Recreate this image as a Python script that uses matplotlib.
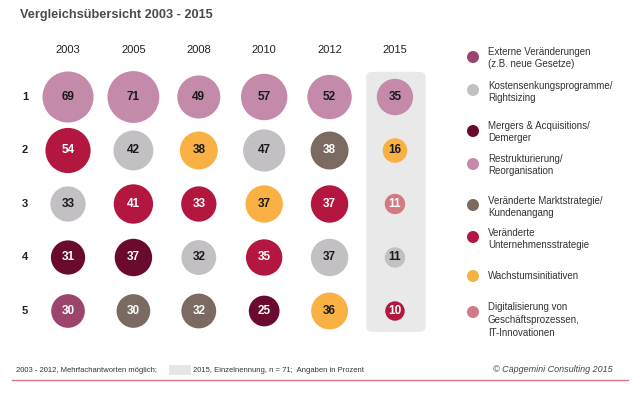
import matplotlib
matplotlib.use("Agg")
import matplotlib.pyplot as plt
from matplotlib.patches import FancyBboxPatch, Rectangle

plt.rcParams["font.family"] = ["Liberation Sans Narrow", "Liberation Sans", "DejaVu Sans"]

# --- data ---
years = ["2003", "2005", "2008", "2010", "2012", "2015"]
ranks = ["1", "2", "3", "4", "5"]

# values per rank row, one entry per year
values = [
    [69, 71, 49, 57, 52, 35],
    [54, 42, 38, 47, 38, 16],
    [33, 41, 33, 37, 37, 11],
    [31, 37, 32, 35, 37, 11],
    [30, 30, 32, 25, 36, 10],
]

# category key per cell
cats = [
    ["restr", "restr", "restr", "restr", "restr", "restr"],
    ["untern", "kosten", "wachs", "kosten", "markt", "wachs"],
    ["kosten", "untern", "untern", "wachs", "untern", "digital"],
    ["merger", "merger", "kosten", "untern", "kosten", "kosten"],
    ["extern", "markt", "markt", "merger", "wachs", "untern"],
]

legend_keys = ["extern", "kosten", "merger", "restr", "markt", "untern", "wachs", "digital"]
legend_labels = [
    "Externe Veränderungen\n(z.B. neue Gesetze)",
    "Kostensenkungsprogramme/\nRightsizing",
    "Mergers & Acquisitions/\nDemerger",
    "Restrukturierung/\nReorganisation",
    "Veränderte Marktstrategie/\nKundenangang",
    "Veränderte\nUnternehmensstrategie",
    "Wachstumsinitiativen",
    "Digitalisierung von\nGeschäftsprozessen,\nIT-Innovationen",
]

colors = {
    "extern": "#9c456c",
    "kosten": "#c2c0c2",
    "merger": "#6a0a2f",
    "restr": "#c38aa9",
    "markt": "#7b6a61",
    "untern": "#b3173f",
    "wachs": "#f8b142",
    "digital": "#d27983",
}
dark_text = {"kosten", "restr", "wachs"}

fig = plt.figure(figsize=(6.4, 3.96), dpi=100)
fig.patch.set_facecolor("white")

# overlay axes in pixel coordinates for frame texts
over = fig.add_axes([0, 0, 1, 1])
over.set_xlim(0, 640)
over.set_ylim(396, 0)
over.axis("off")

over.text(20, 15, "Vergleichsübersicht 2003 - 2015", fontsize=9.2, fontweight="bold",
          color="#4a4a4a", va="center", ha="left", family=["Liberation Sans", "DejaVu Sans"])

# bubble grid axes
ax = fig.add_axes([0.0552, 0.1471, 0.613, 0.6755])
ax.set_xlim(-0.5, len(years) - 0.5)
ax.set_ylim(len(ranks) - 0.5, -0.5)
ax.axis("off")

# highlighted 2015 column
panel = FancyBboxPatch((4.56, -0.47), 0.91, 4.86, boxstyle="round,pad=0,rounding_size=0.1",
                       facecolor="#e9e9e9", edgecolor="none", zorder=0)
ax.add_patch(panel)

for j, yr in enumerate(years):
    ax.text(j, -0.88, yr, ha="center", va="center", fontsize=8, color="#222222", clip_on=False)
for i, rk in enumerate(ranks):
    ax.text(-0.66, i, rk, ha="center", va="center", fontsize=8, fontweight="bold",
            color="#222222", clip_on=False)

for i in range(len(ranks)):
    for j in range(len(years)):
        v = values[i][j]
        c = cats[i][j]
        ax.scatter(j, i, s=19.6 * v, color=colors[c], edgecolors="none", zorder=2, clip_on=False)
        ax.text(j, i, str(v), ha="center", va="center", fontsize=8.5, fontweight="bold",
                color="#1a1a1a" if c in dark_text else "white", zorder=3)

# legend
leg_marker_y = [57, 90, 131, 164, 205, 237, 276, 312]
leg_text_y = [58, 92, 132, 165, 207, 239, 276, 320]
for key, lab, my, ty in zip(legend_keys, legend_labels, leg_marker_y, leg_text_y):
    over.scatter(473, my, s=75, color=colors[key], edgecolors="none")
    over.text(488, ty, lab, ha="left", va="center", fontsize=7, color="#333333",
              linespacing=1.35)

# footer
over.text(16, 370, "2003 - 2012, Mehrfachantworten möglich;", fontsize=5.5, color="#333333",
          va="center", ha="left")
over.add_patch(Rectangle((169, 365), 22, 10, facecolor="#e6e6e6", edgecolor="none"))
over.text(193, 370, "2015, Einzelnennung, n = 71;  Angaben in Prozent", fontsize=5.5,
          color="#333333", va="center", ha="left")
over.text(613, 370, "© Capgemini Consulting 2015", fontsize=6.5, color="#444444",
          va="center", ha="right", style="italic")
over.plot([12, 628], [380, 380], color="#d9738a", linewidth=1)

fig.savefig("out.png", dpi=100, facecolor="white")
